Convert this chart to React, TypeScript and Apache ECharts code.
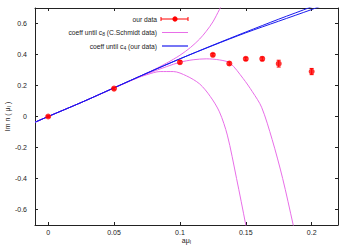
import React, { useEffect, useRef } from "react";
import * as echarts from "echarts";

const xTicks = [0, 0.05, 0.1, 0.15, 0.2];
const yTicks = [-0.6, -0.4, -0.2, 0, 0.2, 0.4, 0.6];

// our data (with error bars)
const dataX = [0, 0.05, 0.1, 0.125, 0.1375, 0.15, 0.1625, 0.175, 0.2];
const dataY = [0, 0.18, 0.35, 0.398, 0.342, 0.372, 0.372, 0.341, 0.29];
const dataErr = [0.005, 0.008, 0.01, 0.008, 0.01, 0.01, 0.012, 0.022, 0.02];

// coeff until c4 (our data) - blue
const blueX = [-0.01, 0, 0.025, 0.05, 0.075, 0.1, 0.125, 0.15, 0.175, 0.2, 0.21];
const blueY = [-0.037, 0, 0.09, 0.185, 0.28, 0.372, 0.46, 0.545, 0.628, 0.708, 0.745];
const blue2Y = [-0.037, 0, 0.09, 0.185, 0.28, 0.372, 0.458, 0.54, 0.615, 0.69, 0.722];

// coeff until c8 (C.Schmidt data) - magenta, three curves
const magUpX = [-0.01, 0, 0.025, 0.05, 0.075, 0.09, 0.1, 0.108, 0.115, 0.12, 0.125, 0.13, 0.133];
const magUpY = [-0.037, 0, 0.09, 0.185, 0.28, 0.345, 0.395, 0.445, 0.5, 0.55, 0.61, 0.69, 0.74];
const magMidX = [-0.01, 0, 0.025, 0.05, 0.075, 0.09, 0.1, 0.11, 0.12, 0.13, 0.138, 0.148, 0.155, 0.162, 0.17, 0.178, 0.186, 0.188];
const magMidY = [-0.037, 0, 0.09, 0.184, 0.275, 0.322, 0.35, 0.366, 0.372, 0.365, 0.345, 0.245, 0.16, 0.06, -0.148, -0.4, -0.7, -0.78];
const magLowX = [-0.01, 0, 0.025, 0.05, 0.065, 0.075, 0.085, 0.095, 0.105, 0.115, 0.123, 0.13, 0.136, 0.143, 0.15, 0.152];
const magLowY = [-0.037, 0, 0.09, 0.183, 0.24, 0.27, 0.29, 0.29, 0.262, 0.21, 0.13, 0.03, -0.12, -0.4, -0.7, -0.8];

const zip = (xs: number[], ys: number[]) => xs.map((x, i) => [x, ys[i]]);

const RED = "#ff0000";
const MAG = "#e86ee8";
const BLUE = "#1a1aee";
const TXT = "#222222";
const FONT = "'Liberation Sans', Arial, sans-serif";

const fmt = (v: number) => String(+Number(v).toFixed(2));

function makeOption() {
  const axisLine = { show: true, onZero: false, lineStyle: { color: "#222", width: 1 } };
  const subRich = { sub: { fontSize: 5, padding: [2, 0, 0, 0], color: TXT, fontFamily: FONT } };
  const legRich = { s: { fontSize: 5, padding: [3, 0, 0, 0], fill: TXT, fontFamily: FONT } };
  return {
    animation: false,
    textStyle: { fontFamily: FONT, color: TXT },
    grid: { left: 35, top: 8, right: 13, bottom: 21, show: false, outerBoundsMode: "none", containLabel: false },
    xAxis: [
      {
        type: "value",
        min: -0.01,
        max: 0.22,
        position: "bottom",
        axisLine,
        axisTick: { show: true, inside: true, length: 3, customValues: xTicks, lineStyle: { color: "#222" } },
        axisLabel: { customValues: xTicks, fontSize: 7, color: TXT, margin: 4, formatter: fmt },
        splitLine: { show: false },
        name: "aμ{sub|I}",
        nameLocation: "middle",
        nameGap: 12,
        nameMoveOverlap: false,
        nameTextStyle: { fontSize: 7, color: TXT, rich: subRich },
      },
      {
        type: "value",
        min: -0.01,
        max: 0.22,
        position: "top",
        axisLine,
        axisTick: { show: true, inside: true, length: 3, customValues: xTicks, lineStyle: { color: "#222" } },
        axisLabel: { show: false },
        splitLine: { show: false },
      },
    ],
    yAxis: [
      {
        type: "value",
        min: -0.7,
        max: 0.7,
        position: "left",
        axisLine,
        axisTick: { show: true, inside: true, length: 3, customValues: yTicks, lineStyle: { color: "#222" } },
        axisLabel: { customValues: yTicks, fontSize: 7, color: TXT, margin: 8, formatter: fmt },
        splitLine: { show: false },
        name: "Im n ( μ{sub|I} )",
        nameLocation: "middle",
        nameGap: 24,
        nameMoveOverlap: false,
        nameTextStyle: { fontSize: 7, color: TXT, rich: subRich },
      },
      {
        type: "value",
        min: -0.7,
        max: 0.7,
        position: "right",
        axisLine,
        axisTick: { show: true, inside: true, length: 3, customValues: yTicks, lineStyle: { color: "#222" } },
        axisLabel: { show: false },
        splitLine: { show: false },
      },
    ],
    series: [
      ...[
        zip(magUpX, magUpY),
        zip(magMidX, magMidY),
        zip(magLowX, magLowY),
      ].map((d) => ({
        type: "line",
        data: d,
        showSymbol: false,
        smooth: 0.3,
        clip: true,
        lineStyle: { color: MAG, width: 1 },
        z: 2,
      })),
      ...[zip(blueX, blue2Y), zip(blueX, blueY)].map((d) => ({
        type: "line",
        data: d,
        showSymbol: false,
        smooth: 0.3,
        clip: true,
        lineStyle: { color: BLUE, width: 1 },
        z: 3,
      })),
      {
        type: "custom",
        data: dataX.map((x, i) => [x, dataY[i], dataErr[i]]),
        encode: { x: 0, y: 1 },
        z: 4,
        renderItem: (params: any, api: any) => {
          const x = api.value(0);
          const y = api.value(1);
          const e = api.value(2);
          const t = api.coord([x, y + e]);
          const b = api.coord([x, y - e]);
          const st = { stroke: RED, lineWidth: 1 };
          return {
            type: "group",
            children: [
              { type: "line", shape: { x1: t[0], y1: t[1], x2: b[0], y2: b[1] }, style: st },
              { type: "line", shape: { x1: t[0] - 2, y1: t[1], x2: t[0] + 2, y2: t[1] }, style: st },
              { type: "line", shape: { x1: b[0] - 2, y1: b[1], x2: b[0] + 2, y2: b[1] }, style: st },
            ],
          };
        },
      },
      {
        type: "scatter",
        data: zip(dataX, dataY),
        symbol: "circle",
        symbolSize: 6,
        itemStyle: { color: RED },
        z: 5,
      },
    ],
    graphic: [
      {
        type: "text",
        x: 157,
        y: 19,
        style: { text: "our data", fontSize: 6.7, fill: TXT, align: "right", verticalAlign: "middle", fontFamily: FONT },
      },
      { type: "line", shape: { x1: 161, y1: 19, x2: 188, y2: 19 }, style: { stroke: RED, lineWidth: 1 } },
      { type: "line", shape: { x1: 161, y1: 17, x2: 161, y2: 21 }, style: { stroke: RED, lineWidth: 1 } },
      { type: "line", shape: { x1: 188, y1: 17, x2: 188, y2: 21 }, style: { stroke: RED, lineWidth: 1 } },
      { type: "circle", shape: { cx: 175, cy: 19, r: 2.6 }, style: { fill: RED } },
      {
        type: "text",
        x: 157,
        y: 32.5,
        style: {
          text: "coeff until c{s|8} (C.Schmidt data)",
          fontSize: 6.7,
          fill: TXT,
          align: "right",
          verticalAlign: "middle",
          fontFamily: FONT,
          rich: legRich,
        },
      },
      { type: "line", shape: { x1: 162, y1: 32.5, x2: 188, y2: 32.5 }, style: { stroke: MAG, lineWidth: 1 } },
      {
        type: "text",
        x: 157,
        y: 46,
        style: {
          text: "coeff until c{s|4} (our data)",
          fontSize: 6.7,
          fill: TXT,
          align: "right",
          verticalAlign: "middle",
          fontFamily: FONT,
          rich: legRich,
        },
      },
      { type: "line", shape: { x1: 162, y1: 46, x2: 188, y2: 46 }, style: { stroke: BLUE, lineWidth: 1.2 } },
    ],
  };
}

export default function App() {
  const ref = useRef<HTMLDivElement>(null);
  useEffect(() => {
    if (!ref.current) return;
    const chart = echarts.init(ref.current, null, { renderer: "svg" });
    chart.setOption(makeOption() as any);
    return () => chart.dispose();
  }, []);
  return (
    <div
      ref={ref}
      style={{ position: "fixed", left: 0, top: 0, width: 351, height: 246, background: "#fff" }}
    />
  );
}
